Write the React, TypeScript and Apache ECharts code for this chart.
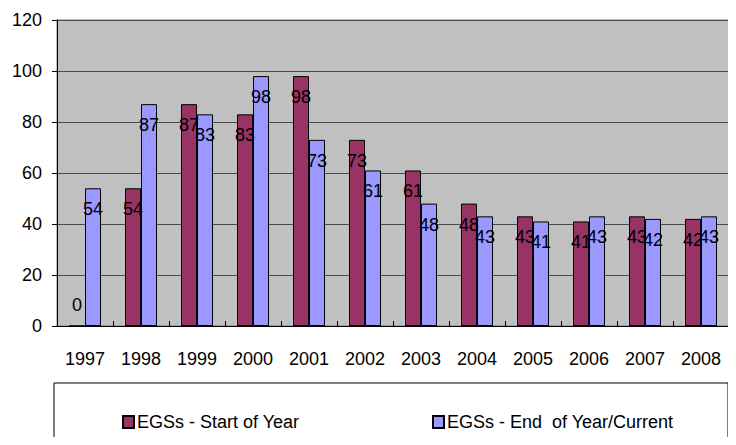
import React, { useEffect, useRef } from "react";
import * as echarts from "echarts";

const years = ["1997", "1998", "1999", "2000", "2001", "2002", "2003", "2004", "2005", "2006", "2007", "2008"];
const startOfYear = [0, 54, 87, 83, 98, 73, 61, 48, 43, 41, 43, 42];
const endOfYear = [54, 87, 83, 98, 73, 61, 48, 43, 41, 43, 42, 43];
const seriesNames = ["EGSs - Start of Year", "EGSs - End  of Year/Current"];

const FONT = "'Liberation Sans', Arial, sans-serif";
const FS = 18;

export default function App() {
  const ref = useRef<HTMLDivElement>(null);
  useEffect(() => {
    if (!ref.current) return;
    const chart = echarts.init(ref.current, null, { renderer: "svg" });
    const labelBase = {
      show: true,
      position: "insideTop" as const,
      distance: 12,
      color: "#000",
      fontFamily: FONT,
      fontSize: FS,
    };
    const legendText = { fontFamily: FONT, fontSize: FS, color: "#000", padding: [0, 0, 0, -2] };
    chart.setOption({
      animation: false,
      backgroundColor: "#fff",
      textStyle: { fontFamily: FONT },
      grid: {
        left: 57,
        top: 20,
        right: 7,
        bottom: 119,
        show: true,
        backgroundColor: "#c0c0c0",
        borderColor: "#808080",
        borderWidth: 1,
        containLabel: false,
      },
      legend: [
        {
          data: [seriesNames[0]],
          left: 117,
          top: 408,
          icon: "rect",
          itemWidth: 11,
          itemHeight: 12,
          itemGap: 5,
          textStyle: legendText,
        },
        {
          data: [seriesNames[1]],
          left: 427,
          top: 408,
          icon: "rect",
          itemWidth: 11,
          itemHeight: 12,
          itemGap: 5,
          textStyle: legendText,
        },
      ],
      graphic: [
        {
          type: "rect",
          shape: { x: 54, y: 383, width: 674, height: 80 },
          style: { fill: "none", stroke: "#000", lineWidth: 1 },
          silent: true,
        },
      ],
      xAxis: {
        type: "category",
        data: years,
        axisLine: { lineStyle: { color: "#000", width: 1 } },
        axisTick: { show: true, inside: true, length: 5, lineStyle: { color: "#000" } },
        axisLabel: { color: "#000", fontFamily: FONT, fontSize: FS, margin: 24, interval: 0 },
        splitLine: { show: false },
      },
      yAxis: {
        type: "value",
        min: 0,
        max: 120,
        interval: 20,
        axisLine: { show: true, lineStyle: { color: "#000", width: 1 } },
        axisTick: { show: true, inside: false, length: 5, lineStyle: { color: "#000" } },
        axisLabel: { color: "#000", fontFamily: FONT, fontSize: FS, margin: 15 },
        splitLine: { show: true, lineStyle: { color: "#4a4a4a", width: 1 } },
      },
      series: [
        {
          name: seriesNames[0],
          type: "bar",
          barWidth: 16,
          barGap: "0%",
          itemStyle: { color: "#993366", borderColor: "#000", borderWidth: 1 },
          label: labelBase,
          labelLayout: { hideOverlap: false },
          data: startOfYear.map((v) =>
            v === 0 ? { value: v, label: { position: "top", distance: 12 } } : v
          ),
        },
        {
          name: seriesNames[1],
          type: "bar",
          barWidth: 16,
          barGap: "0%",
          itemStyle: { color: "#9999ff", borderColor: "#000", borderWidth: 1 },
          label: labelBase,
          labelLayout: { hideOverlap: false },
          data: endOfYear,
        },
      ],
    });
    return () => chart.dispose();
  }, []);
  return <div ref={ref} style={{ width: 736, height: 445, margin: -8 }} />;
}
